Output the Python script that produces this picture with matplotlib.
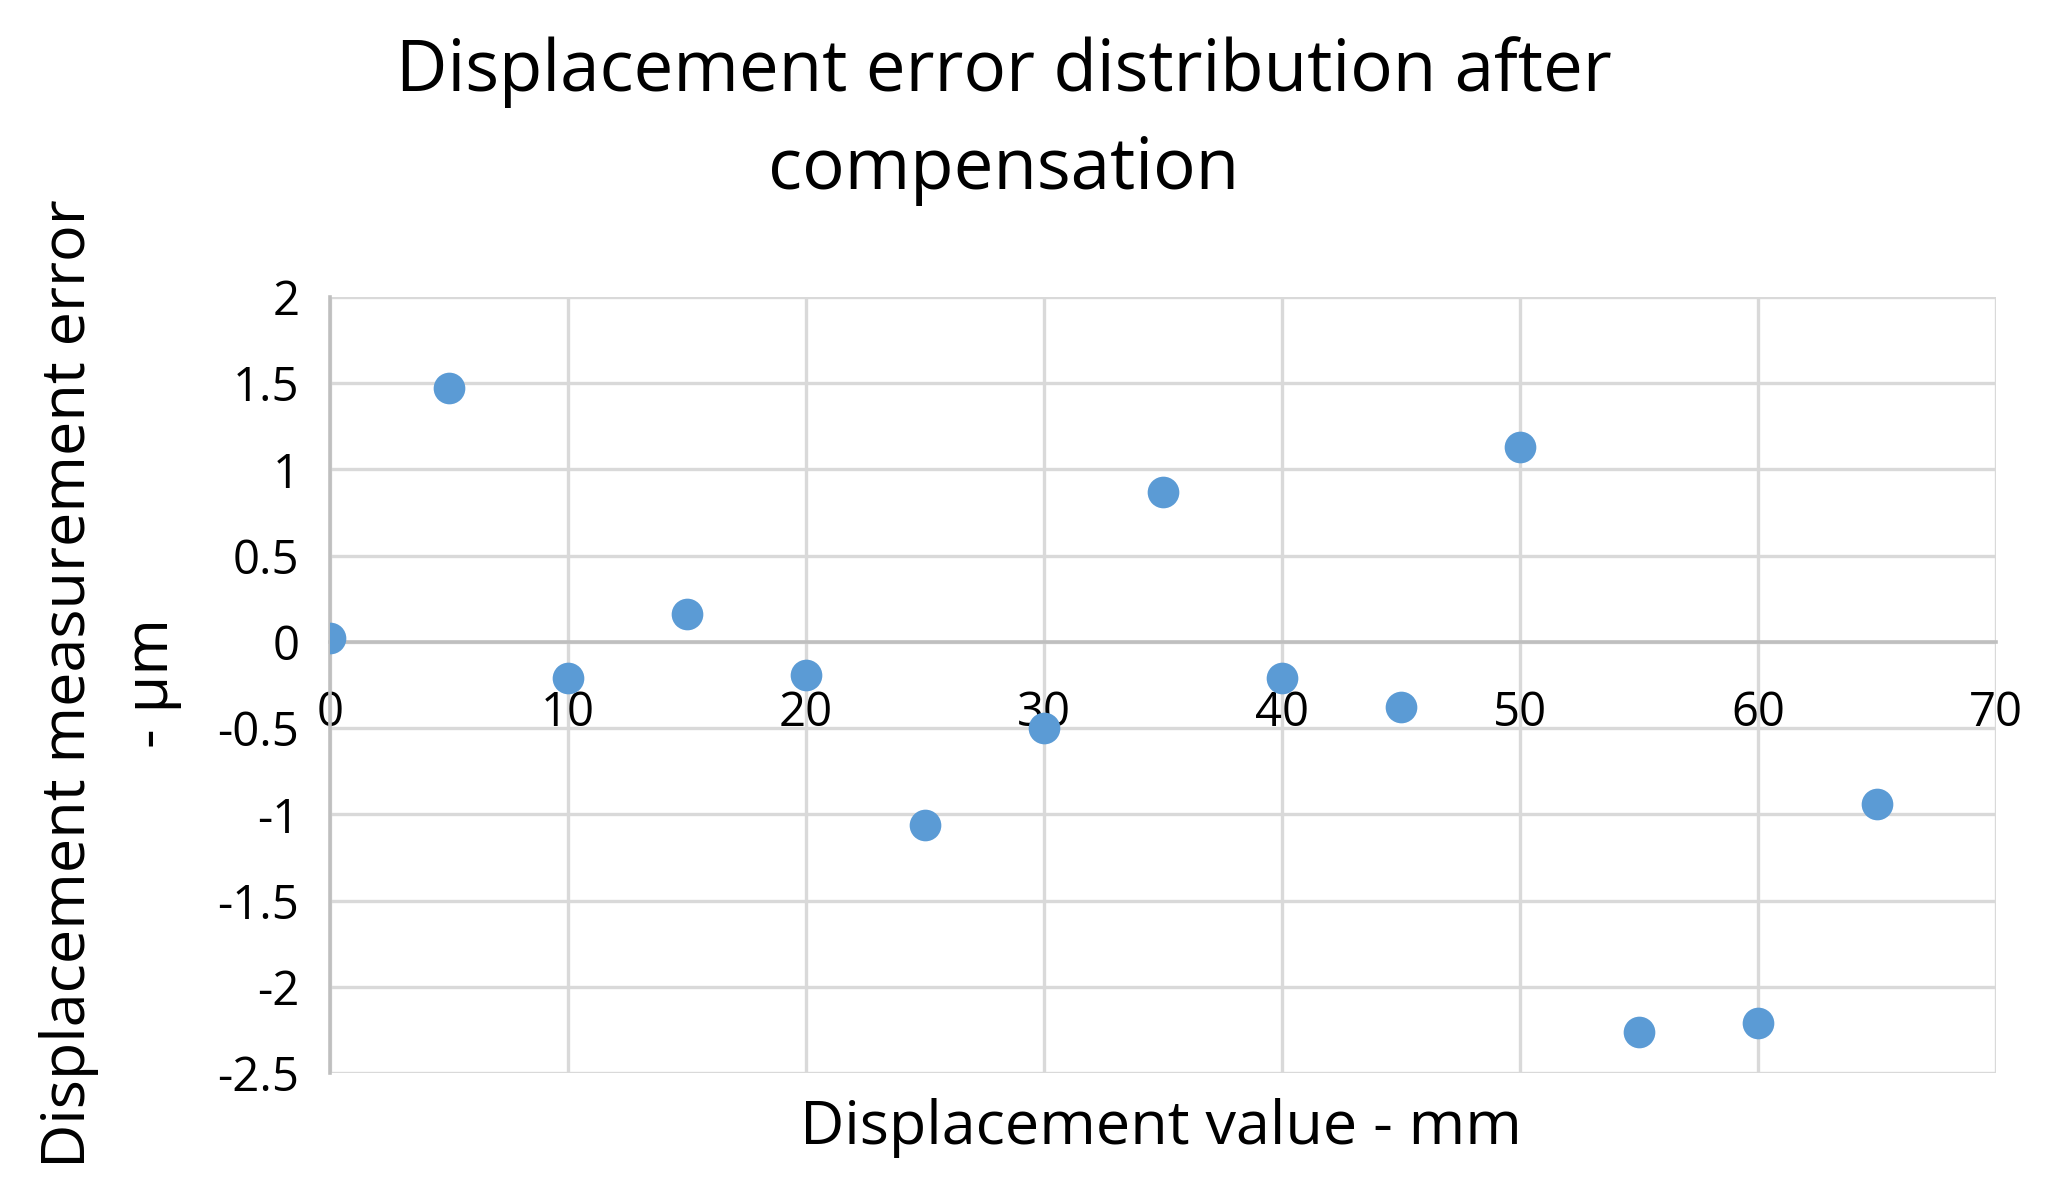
import matplotlib
matplotlib.use('Agg')
import matplotlib.pyplot as plt

# displacement (mm) vs. measurement error (um) after compensation
displacement = [0, 5, 10, 15, 20, 25, 30, 35, 40, 45, 50, 55, 60, 65]
error = [0.02, 1.47, -0.21, 0.16, -0.19, -1.06, -0.50, 0.87, -0.21, -0.38, 1.13, -2.26, -2.21, -0.94]

x_ticks = [0, 10, 20, 30, 40, 50, 60, 70]
y_ticks = [2, 1.5, 1, 0.5, 0, -0.5, -1, -1.5, -2, -2.5]
y_labels = ['2', '1.5', '1', '0.5', '0', '-0.5', '-1', '-1.5', '-2', '-2.5']

plt.rcParams['font.family'] = ['Open Sans', 'DejaVu Sans']

fig = plt.figure(figsize=(20.52, 11.99), dpi=100)
ax = fig.add_axes([0.1608, 0.1051, 0.8119, 0.6472])

ax.scatter(displacement, error, s=520, color='#5B9BD5', zorder=3, linewidths=0)

ax.set_xlim(0, 70)
ax.set_ylim(-2.5, 2)
ax.set_xticks(x_ticks)
ax.set_yticks(y_ticks)
ax.set_yticklabels(y_labels)
ax.grid(True, color='#D9D9D9', linewidth=2.4)
ax.set_axisbelow(True)

# excel-style: horizontal axis crosses at y = 0
ax.spines['bottom'].set_position(('data', 0))
ax.spines['bottom'].set_color('#BFBFBF')
ax.spines['bottom'].set_linewidth(2.6)
ax.spines['left'].set_color('#BFBFBF')
ax.spines['left'].set_linewidth(2.6)
ax.spines['top'].set_visible(False)
ax.spines['right'].set_visible(False)
ax.tick_params(axis='x', length=0, pad=34, labelsize=34)
ax.tick_params(axis='y', length=0, pad=22, labelsize=34)

fig.text(0.489, 0.899, 'Displacement error distribution after\ncompensation',
         ha='center', va='center', fontsize=51, linespacing=1.5)
fig.text(0.566, 0.059, 'Displacement value - mm', ha='center', va='center', fontsize=44)
fig.text(0.054, 0.43, 'Displacement measurement error\n- µm', ha='center', va='center',
         rotation=90, fontsize=44, linespacing=1.5)

fig.savefig('out.png', dpi=100)
